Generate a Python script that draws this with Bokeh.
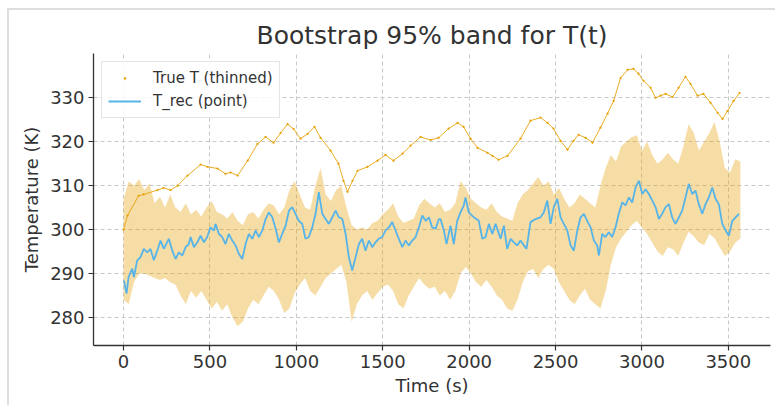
from bokeh.plotting import figure
from bokeh.models import Range1d, FixedTicker, Legend, LegendItem
from bokeh.embed import file_html
from bokeh.resources import INLINE

title_text = "Bootstrap 95% band for T(t)"
x_label = "Time (s)"
y_label = "Temperature (K)"
x_ticks = [0, 500, 1000, 1500, 2000, 2500, 3000, 3500]
y_ticks = [280, 290, 300, 310, 320, 330]

# True temperature (thinned)
true_t = [0, 23, 87, 116, 197, 231, 272, 313, 370, 446, 486, 544, 590, 619, 660,
          718, 775, 822, 868, 909, 949, 984, 1024, 1065, 1105, 1140, 1198, 1244,
          1273, 1296, 1325, 1354, 1412, 1470, 1516, 1562, 1615, 1661, 1719, 1777,
          1823, 1881, 1933, 1968, 2008, 2049, 2106, 2135, 2170, 2222, 2297, 2355,
          2413, 2454, 2488, 2529, 2569, 2604, 2633, 2674, 2714, 2760, 2801, 2836,
          2876, 2917, 2951, 2980, 3009, 3050, 3079, 3108, 3137, 3177, 3212, 3252,
          3281, 3322, 3356, 3397, 3438, 3466, 3495, 3530, 3565]
true_T = [300.0, 303.2, 307.7, 308.0, 309.0, 309.5, 309.0, 310.0, 312.3, 314.8, 314.3,
          313.9, 312.7, 313.0, 312.3, 315.7, 319.5, 321.1, 319.8, 322.0, 324.0, 322.9,
          320.7, 321.8, 323.4, 320.9, 318.0, 315.0, 311.1, 308.6, 311.1, 313.4, 314.3,
          315.7, 317.0, 315.7, 317.3, 319.1, 321.1, 320.4, 320.9, 323.0, 324.3, 323.4,
          320.7, 318.6, 317.5, 316.8, 315.9, 316.8, 320.7, 324.8, 325.5, 324.3, 323.0,
          320.2, 318.2, 320.2, 321.6, 320.9, 319.8, 323.2, 326.4, 329.3, 334.5, 336.4,
          336.6, 335.5, 333.9, 332.3, 330.0, 330.5, 330.9, 330.2, 332.3, 334.8, 333.2,
          330.5, 330.9, 328.9, 326.6, 325.2, 327.0, 329.3, 331.1]

# Reconstructed temperature (point estimate)
rec_t = [2, 17, 29, 50, 60, 79, 98, 117, 137, 156, 175, 195, 214, 233, 262, 282, 301,
         320, 340, 359, 378, 388, 407, 427, 446, 465, 484, 503, 523, 532, 552, 571,
         590, 609, 629, 648, 667, 687, 706, 725, 745, 764, 783, 803, 822, 841, 861,
         880, 899, 918, 938, 957, 976, 995, 1014, 1034, 1053, 1072, 1092, 1111, 1130,
         1150, 1169, 1188, 1208, 1227, 1246, 1266, 1285, 1304, 1323, 1343, 1362, 1381,
         1400, 1420, 1439, 1458, 1477, 1497, 1516, 1535, 1555, 1574, 1593, 1613, 1632,
         1651, 1671, 1690, 1709, 1729, 1748, 1767, 1786, 1806, 1825, 1834, 1854, 1869,
         1892, 1911, 1931, 1950, 1969, 1979, 1998, 2027, 2056, 2076, 2095, 2114, 2134,
         2153, 2182, 2201, 2220, 2240, 2259, 2278, 2297, 2317, 2332, 2355, 2384, 2413,
         2432, 2452, 2471, 2490, 2510, 2529, 2548, 2568, 2587, 2606, 2626, 2645, 2664,
         2683, 2703, 2722, 2741, 2751, 2770, 2789, 2808, 2828, 2847, 2866, 2886, 2905,
         2924, 2944, 2963, 2982, 3002, 3021, 3040, 3060, 3079, 3098, 3117, 3137, 3156,
         3175, 3194, 3214, 3233, 3252, 3271, 3291, 3310, 3329, 3349, 3368, 3387, 3407,
         3426, 3445, 3465, 3484, 3503, 3523, 3542, 3561]
rec_T = [288.4, 285.4, 289.2, 291.1, 289.2, 293.0, 293.7, 295.6, 294.8, 295.6, 293.0,
         295.2, 297.5, 295.6, 297.9, 295.2, 293.3, 294.8, 294.1, 296.0, 296.7, 298.3,
         296.0, 297.1, 298.6, 297.1, 298.3, 300.5, 299.8, 301.3, 299.0, 298.3, 296.7,
         299.0, 297.5, 296.4, 294.5, 293.3, 296.7, 299.0, 297.9, 299.8, 298.3, 299.8,
         302.4, 303.9, 302.8, 300.2, 297.1, 299.0, 300.9, 304.3, 305.1, 303.6, 302.0,
         301.3, 297.9, 298.3, 300.5, 303.6, 308.5, 303.6, 302.4, 301.3, 302.8, 304.3,
         302.8, 302.4, 299.0, 293.7, 290.7, 293.7, 296.7, 297.9, 295.2, 297.5, 296.0,
         297.1, 297.9, 298.3, 299.8, 300.5, 301.7, 299.8, 297.9, 296.0, 297.5, 296.4,
         297.5, 298.3, 300.5, 303.2, 302.0, 302.8, 300.5, 300.2, 302.4, 302.4, 299.8,
         296.7, 300.9, 296.7, 302.0, 303.9, 305.5, 307.3, 303.9, 302.8, 302.0, 297.9,
         298.3, 301.3, 299.0, 301.3, 297.9, 300.9, 295.6, 297.9, 297.1, 296.4, 297.5,
         296.4, 295.6, 301.7, 302.4, 302.8, 303.9, 306.6, 301.3, 305.1, 307.0, 302.8,
         301.3, 299.8, 296.4, 295.2, 299.8, 302.8, 303.6, 302.0, 300.5, 297.5, 296.4,
         294.1, 299.0, 298.3, 299.4, 298.3, 300.5, 303.6, 306.2, 305.5, 307.3, 306.2,
         309.6, 311.1, 308.1, 309.2, 308.1, 306.6, 305.1, 302.4, 303.6, 305.1, 305.8,
         302.8, 301.3, 302.8, 304.3, 307.3, 310.4, 308.1, 308.9, 305.8, 303.6, 305.8,
         307.3, 309.6, 307.0, 305.8, 301.3, 299.8, 298.6, 302.0, 302.8, 303.6]

# Bootstrap 95% band
band_t = [0, 30, 60, 90, 120, 150, 180, 210, 240, 270, 300, 330, 360, 390, 420, 450,
          480, 510, 540, 570, 600, 630, 660, 690, 720, 750, 780, 810, 840, 870, 900,
          930, 960, 990, 1020, 1050, 1080, 1110, 1140, 1170, 1200, 1230, 1260, 1290,
          1320, 1350, 1380, 1410, 1440, 1470, 1500, 1530, 1560, 1590, 1620, 1650, 1680,
          1710, 1740, 1770, 1800, 1830, 1860, 1890, 1920, 1950, 1980, 2010, 2040, 2070,
          2100, 2130, 2160, 2190, 2220, 2250, 2280, 2310, 2340, 2370, 2400, 2430, 2460,
          2490, 2520, 2550, 2580, 2610, 2640, 2670, 2700, 2730, 2760, 2790, 2820, 2850,
          2880, 2910, 2940, 2970, 3000, 3030, 3060, 3090, 3120, 3150, 3180, 3210, 3240,
          3270, 3300, 3330, 3360, 3390, 3420, 3450, 3480, 3510, 3540, 3570]
band_hi = [307, 311, 310, 311.5, 309, 310.5, 306, 307.5, 305, 308, 305, 304, 306, 303.5,
           304.5, 303, 305, 306.5, 304, 303.5, 302.5, 304, 302, 301, 303.5, 304, 302.5,
           304.5, 306, 305.5, 303.5, 305, 309, 311, 308, 305, 304.5, 310, 314, 308,
           306.5, 309, 310, 305, 301, 300, 300.5, 300, 301.5, 302, 303.5, 304.5, 306,
           303, 301.5, 302, 302.5, 305.5, 307, 306, 305, 306, 304, 304.5, 306, 311,
           309.5, 307, 306, 305, 304.5, 306, 304, 303, 302.5, 302, 306, 308, 309, 310.5,
           312, 310, 311, 308, 309.5, 307, 305, 306, 308, 307, 306, 305, 310, 314, 317,
           315.5, 319, 320, 321, 321.5, 318, 320, 317, 315, 316, 317.5, 316, 315, 319,
           324, 322, 318, 320, 322, 324.5, 320, 314, 313, 316, 315.5]
band_lo = [284, 283, 288, 290, 290, 289.5, 289, 288.5, 289, 288, 287.5, 285, 283, 286,
           284.5, 286, 284, 282, 283.5, 281.5, 283, 280, 278, 279, 282, 284, 283, 285,
           287, 286, 284, 281, 282, 285.5, 287.5, 289, 286, 285, 287, 289, 290, 291, 292,
           288, 279, 283, 285, 286, 284, 285.5, 287, 287.5, 286, 283, 282, 285, 287, 289,
           287.5, 286.5, 287, 285, 286, 284, 286, 290, 291.5, 290, 288, 287, 288.5, 287,
           285, 284, 282, 281.5, 284, 288, 290.5, 291, 289, 291, 292, 291, 288, 286, 284,
           283, 285, 286.5, 284, 283, 282, 286, 292, 296, 298, 299.5, 301, 302, 300.5,
           299, 297, 295, 294, 296, 295.5, 294, 297, 299.5, 298.5, 297, 296.5, 299, 298,
           296, 294, 295, 297, 298]

ORANGE = "#E69F00"
BLUE = "#56B4E9"
TEXT = "#333333"
FONT = "DejaVu Sans"

p = figure(width=768, height=397, output_backend="svg", toolbar_location=None,
           x_range=Range1d(-174, 3744), y_range=Range1d(273.6, 340.1),
           min_border_left=84, min_border_right=7, min_border_top=43,
           min_border_bottom=62, title=title_text)
p.styles = {"margin-left": "7px", "margin-top": "8px",
            "border-left": "2px solid #dedede", "border-top": "2px solid #dedede"}

p.title.text_font = FONT
p.title.text_font_size = "25px"
p.title.text_font_style = "normal"
p.title.text_color = TEXT
p.title.align = "center"
p.title.standoff = 7

p.outline_line_color = None
p.background_fill_color = "white"

for ax in (p.xaxis[0], p.yaxis[0]):
    ax.axis_line_color = TEXT
    ax.axis_line_width = 1.3
    ax.major_tick_line_color = TEXT
    ax.major_tick_line_width = 1.2
    ax.major_tick_out = 5
    ax.major_tick_in = 0
    ax.minor_tick_line_color = None
    ax.major_label_text_font = FONT
    ax.major_label_text_font_size = "18px"
    ax.major_label_text_color = TEXT
    ax.major_label_standoff = 4
    ax.axis_label_text_font = FONT
    ax.axis_label_text_font_size = "18px"
    ax.axis_label_text_font_style = "normal"
    ax.axis_label_text_color = TEXT

p.xaxis.ticker = FixedTicker(ticks=x_ticks)
p.yaxis.ticker = FixedTicker(ticks=y_ticks)
p.xaxis.axis_label = x_label
p.yaxis.axis_label = y_label
p.xaxis.axis_label_standoff = 4
p.yaxis.axis_label_standoff = 5

p.grid.grid_line_color = "#c8c8c8"
p.grid.grid_line_dash = "4 3"
p.grid.grid_line_width = 1

p.varea(x=band_t, y1=band_lo, y2=band_hi, fill_color=ORANGE, fill_alpha=0.35)
p.line(x=true_t, y=true_T, line_color=ORANGE, line_width=1.0, line_alpha=0.85)
dots = p.scatter(x=true_t, y=true_T, size=2.2, fill_color=ORANGE, line_color=None)
rec = p.line(x=rec_t, y=rec_T, line_color=BLUE, line_width=1.8)

legend = Legend(items=[LegendItem(label="True T (thinned)", renderers=[dots]),
                       LegendItem(label="T_rec (point)", renderers=[rec])],
                location="top_left")
legend.margin = 8
legend.padding = 6
legend.spacing = 3
legend.glyph_width = 33
legend.glyph_height = 6
legend.label_height = 20
legend.label_standoff = 12
legend.label_text_font = FONT
legend.label_text_font_size = "15px"
legend.label_text_color = TEXT
legend.border_line_color = "#cccccc"
legend.border_line_width = 1
legend.background_fill_alpha = 0.85
p.add_layout(legend)

open("out.html", "w").write(file_html(p, INLINE))
